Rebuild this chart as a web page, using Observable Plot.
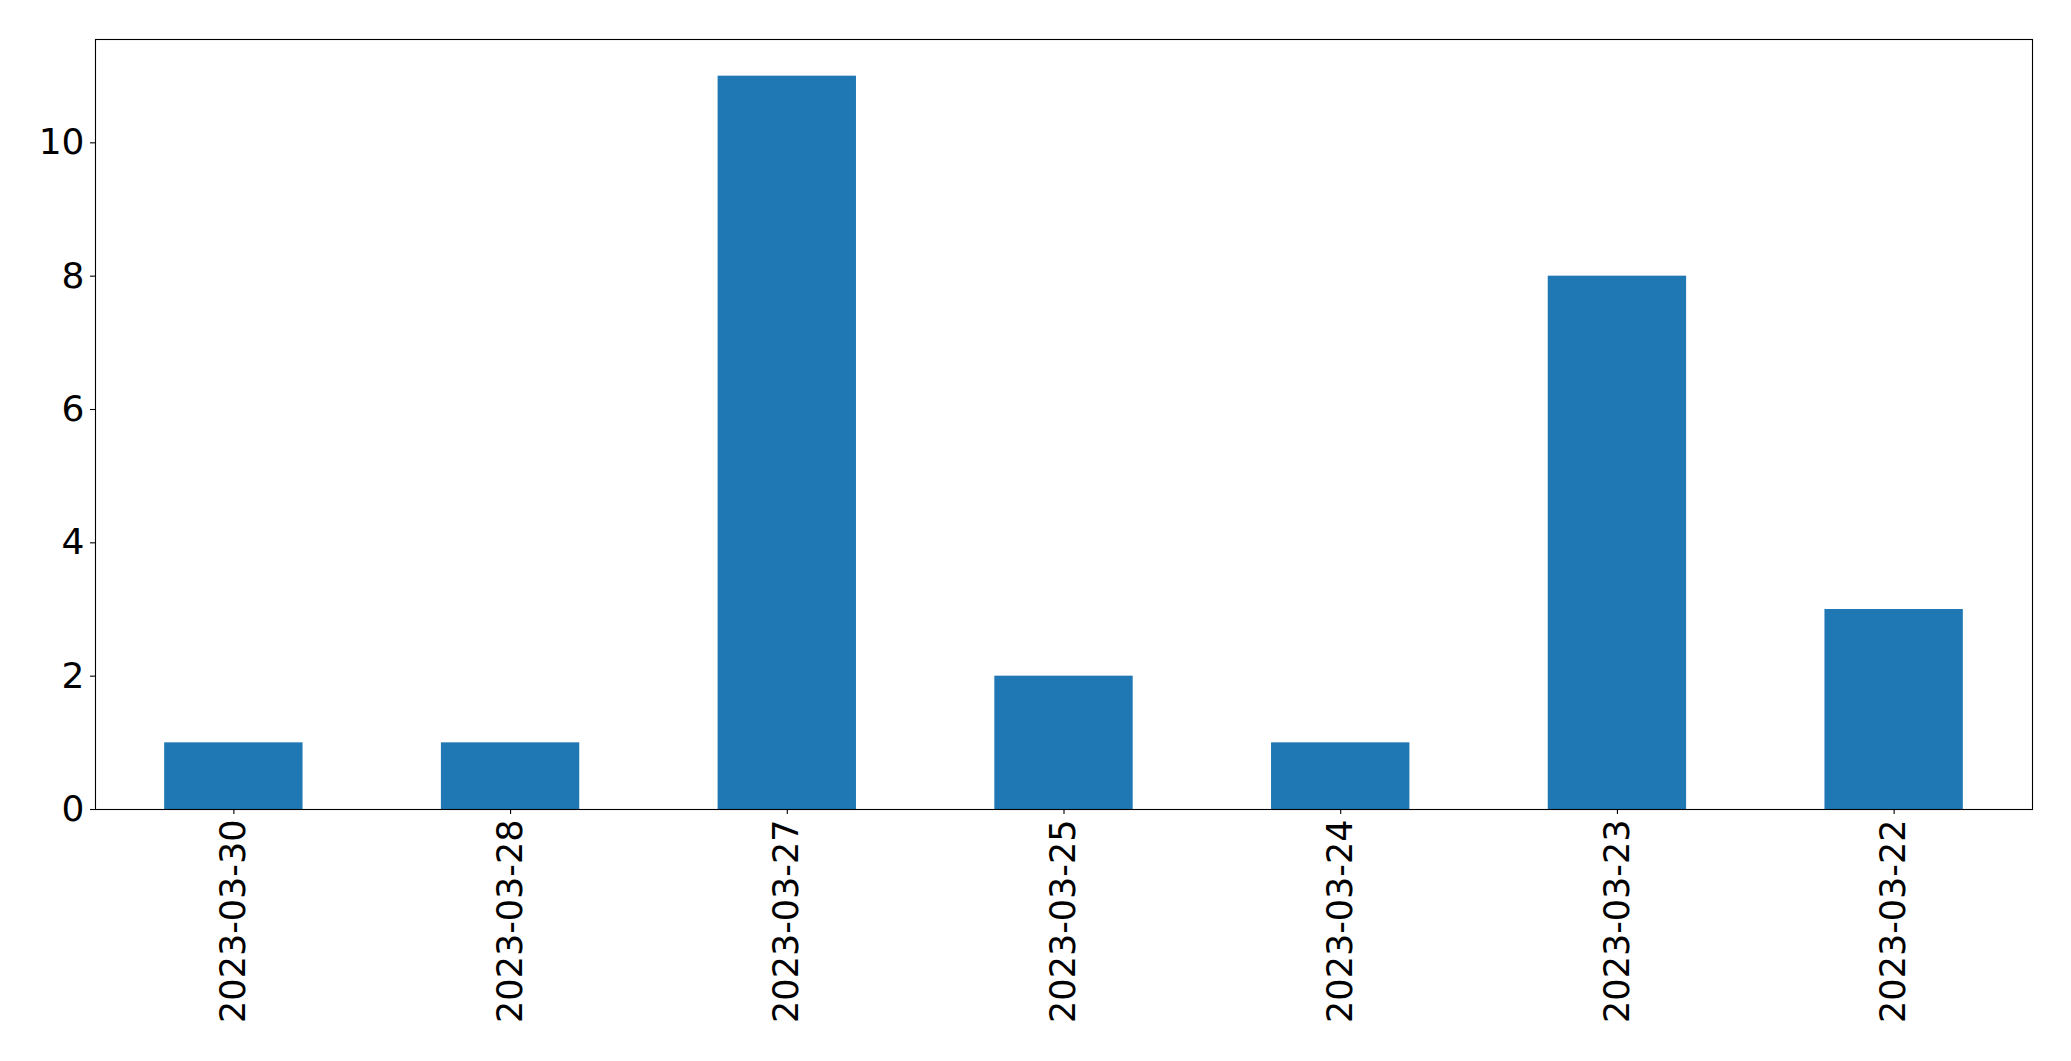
<!DOCTYPE html>
<html>
<head>
<meta charset="utf-8">
<script src="https://cdn.jsdelivr.net/npm/d3@7"></script>
<script src="https://cdn.jsdelivr.net/npm/@observablehq/plot@0.6"></script>
<style>
  html, body { margin: 0; padding: 0; background: #fff; }
  svg { display: block; }
</style>
</head>
<body>
<div id="chart"></div>
<script>
const dates = ["2023-03-30", "2023-03-28", "2023-03-27", "2023-03-25", "2023-03-24", "2023-03-23", "2023-03-22"];
const counts = [1, 1, 11, 2, 1, 8, 3];
const yTicks = [0, 2, 4, 6, 8, 10];

const data = dates.map((d, i) => ({date: d, count: counts[i]}));

const chart = Plot.plot({
  width: 2071,
  height: 1061,
  marginLeft: 95,
  marginTop: 39,
  marginRight: 39,
  marginBottom: 252,
  style: {fontFamily: "DejaVu Sans", fontSize: "36px", color: "#000", background: "#fff"},
  x: {domain: dates, paddingInner: 0.5, paddingOuter: 0.25, round: false, label: null},
  y: {domain: [0, 11.55], label: null},
  marks: [
    Plot.barY(data, {x: "date", y: "count", fill: "#1f77b4"}),
    Plot.axisX({tickRotate: -90, tickSize: 5, tickPadding: 5, fontSize: 35, stroke: "#000", strokeWidth: 1.1}),
    Plot.axisY({ticks: yTicks, tickSize: 5, tickPadding: 6, fontSize: 36, stroke: "#000", strokeWidth: 1.1}),
    Plot.frame({stroke: "#000", strokeWidth: 1.1})
  ]
});
document.getElementById("chart").appendChild(chart);
</script>
</body>
</html>
